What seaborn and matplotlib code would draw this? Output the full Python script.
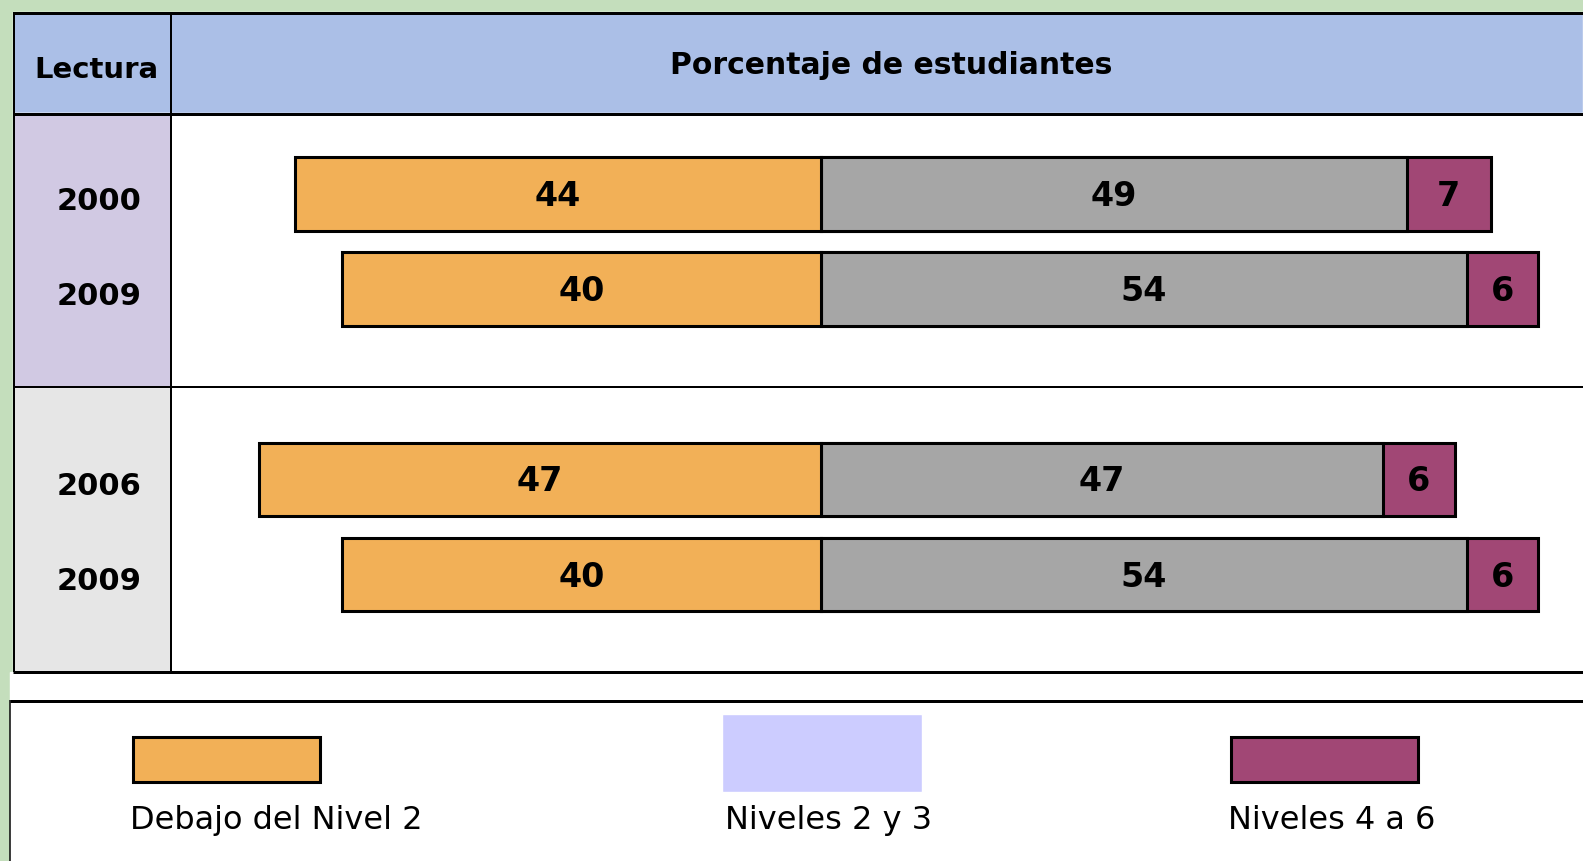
import pandas as pd
import matplotlib
matplotlib.use('Agg')
import matplotlib.pyplot as plt
import seaborn as sns
from matplotlib.patches import Rectangle
from matplotlib.lines import Line2D

# data
years = ["2000", "2009", "2006", "2009"]
row_keys = ["2000a", "2009a", "2006b", "2009b"]
below_level2 = [44, 40, 47, 40]
levels_2_3 = [49, 54, 47, 54]
levels_4_6 = [7, 6, 6, 6]
legend_labels = ["Debajo del Nivel 2", "Niveles 2 y 3", "Niveles 4 a 6"]

ORANGE = "#F2B057"
GREY = "#A6A6A6"
PURPLE = "#A14775"
LAVENDER = "#CCCCFF"
HEADER = "#ABBFE7"
LEFT_TOP = "#D1C9E3"
LEFT_BOTTOM = "#E6E6E6"
GREEN = "#C4DEBC"

W, H = 1583, 862


def fx(x):
    return x / W


def fy(y):
    return 1 - y / H


def rect(fig, x0, y0, x1, y1, color, z=0, **kw):
    r = Rectangle((fx(x0), fy(y1)), (x1 - x0) / W, (y1 - y0) / H,
                  transform=fig.transFigure, facecolor=color, zorder=z, **kw)
    fig.add_artist(r)


def line(fig, x0, y0, x1, y1, px=3):
    fig.add_artist(Line2D([fx(x0), fx(x1)], [fy(y0), fy(y1)], transform=fig.transFigure,
                          color="black", lw=px * 0.72, zorder=5, solid_capstyle="butt"))


sns.set_style("white")
plt.rcParams['font.family'] = ['DejaVu Sans']
plt.rcParams['text.color'] = 'black'
plt.rcParams['ytick.color'] = 'black'

df = pd.DataFrame({
    "fila": row_keys,
    "debajo": [-v for v in below_level2],
    "medio": levels_2_3,
    "total": [m + t for m, t in zip(levels_2_3, levels_4_6)],
})
order = [row_keys[0], row_keys[1], "gap", row_keys[2], row_keys[3]]

fig = plt.figure(figsize=(W / 100, H / 100), dpi=100)
fig.patch.set_facecolor(GREEN)

# background cells
rect(fig, 10, 673, W, H, "white", z=-2)
rect(fig, 13, 13, W, 114, HEADER, z=-1)
rect(fig, 13, 114, 171, 388, LEFT_TOP, z=-1)
rect(fig, 13, 388, 171, 673, LEFT_BOTTOM, z=-1)

ax = fig.add_axes([fx(171), fy(673), (W - 171) / W, (673 - 115) / H])
ax.set_facecolor("white")

bar_kw = dict(data=df, y="fila", order=order, orient="h", width=0.77, saturation=1,
              edgecolor="black", linewidth=2.2, errorbar=None, ax=ax)
sns.barplot(x="total", color=PURPLE, **bar_kw)
sns.barplot(x="medio", color=GREY, **bar_kw)
sns.barplot(x="debajo", color=ORANGE, **bar_kw)

positions = [order.index(k) for k in row_keys]
for pos, b, m, t in zip(positions, below_level2, levels_2_3, levels_4_6):
    for xv, v in [(-b / 2, b), (m / 2, m), (m + t / 2, t)]:
        ax.text(xv, pos + 0.02, str(v), ha="center", va="center", fontsize=24,
                fontweight="bold", color="black", zorder=10)

ax.set_xlim(-54.33, 63.73)
ax.set_ylim(5.03, -0.842)
ax.set_xticks([])
ax.set_yticks([p + 0.04 for p in positions])
ax.set_yticklabels(years, fontsize=22, fontweight="bold", color="black")
for lab in ax.get_yticklabels():
    lab.set_ha("center")
ax.tick_params(axis="y", length=0, pad=52)
ax.set_xlabel("")
ax.set_ylabel("")
for s in ax.spines.values():
    s.set_visible(False)

# header texts
fig.text(fx(96), fy(70), "Lectura", ha="center", va="center", fontsize=21, fontweight="bold")
fig.text(fx(891), fy(66), "Porcentaje de estudiantes", ha="center", va="center",
         fontsize=21.5, fontweight="bold")

# table lines
line(fig, 13, 13.5, W, 13.5, 3)
line(fig, 13, 114.5, W, 114.5, 3)
line(fig, 13.5, 13, 13.5, 673, 2)
line(fig, 170.5, 13, 170.5, 673, 2)
line(fig, 13, 388, W, 388, 2)
line(fig, 13, 673, W, 673, 3)
line(fig, 10, 701.5, W, 701.5, 3)
line(fig, 10, 701, 10, H, 1.5)

# legend
rect(fig, 133, 738, 320, 783, ORANGE, z=3, edgecolor="black", linewidth=2.2)
rect(fig, 722, 715, 922, 793, LAVENDER, z=3)
rect(fig, 1231, 738, 1418, 783, PURPLE, z=3, edgecolor="black", linewidth=2.2)
for xl, lab in zip([130, 725, 1228], legend_labels):
    fig.text(fx(xl), fy(821), lab, ha="left", va="center", fontsize=23)

fig.savefig("out.png", dpi=100, facecolor=fig.get_facecolor())
